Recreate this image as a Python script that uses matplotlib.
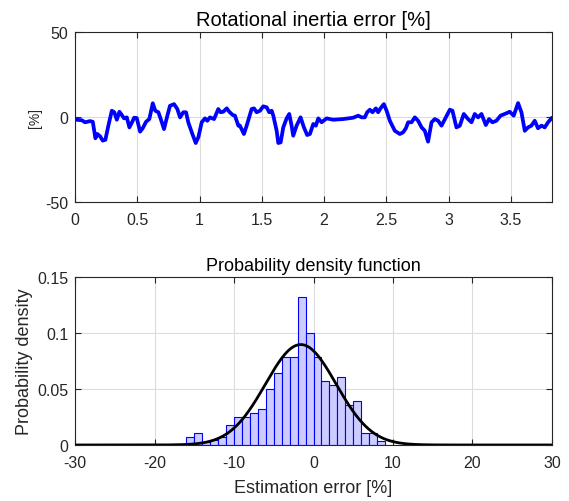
import numpy as np
import matplotlib
matplotlib.use('Agg')
import matplotlib.pyplot as plt

# Traced time series: rotational inertia error [%]
t = [0.008, 0.054, 0.080, 0.120, 0.142, 0.163, 0.179, 0.201, 0.222, 0.243,
     0.267, 0.295, 0.315, 0.335, 0.356, 0.375, 0.393, 0.415, 0.436, 0.457,
     0.474, 0.495, 0.522, 0.543, 0.570, 0.596, 0.624, 0.644, 0.669, 0.688,
     0.714, 0.741, 0.762, 0.795, 0.821, 0.843, 0.869, 0.891, 0.909, 0.937,
     0.969, 0.990, 1.017, 1.043, 1.062, 1.083, 1.116, 1.150, 1.169, 1.190,
     1.218, 1.238, 1.266, 1.284, 1.311, 1.324, 1.356, 1.378, 1.418, 1.437,
     1.458, 1.485, 1.511, 1.539, 1.559, 1.579, 1.592, 1.619, 1.632, 1.651,
     1.672, 1.699, 1.720, 1.739, 1.752, 1.779, 1.811, 1.838, 1.864, 1.886,
     1.913, 1.934, 1.953, 1.980, 2.020, 2.073, 2.153, 2.234, 2.274, 2.301,
     2.327, 2.346, 2.368, 2.389, 2.416, 2.434, 2.453, 2.480, 2.502, 2.528,
     2.568, 2.608, 2.635, 2.657, 2.675, 2.702, 2.729, 2.755, 2.783, 2.809,
     2.835, 2.863, 2.889, 2.916, 2.943, 2.978, 3.010, 3.031, 3.063, 3.090,
     3.122, 3.156, 3.184, 3.210, 3.237, 3.264, 3.299, 3.325, 3.352, 3.384,
     3.417, 3.451, 3.491, 3.523, 3.558, 3.585, 3.612, 3.638, 3.665, 3.692,
     3.718, 3.746, 3.772, 3.799, 3.826]
err = [-1.6, -1.9, -3.1, -2.4, -2.8, -12.5, -10.0, -11.4, -13.9, -13.4,
       -5.1, 3.7, 2.8, -1.6, 3.1, 1.2, -0.8, -0.2, -6.1, -3.1,
       -0.4, -0.6, -8.6, -6.6, -2.8, -1.2, 8.1, 3.7, 2.8, -1.2,
       -7.1, 0.8, 6.6, 7.6, 4.7, -0.2, 2.8, 2.8, -3.1, -9.0,
       -15.3, -11.9, -3.1, -0.8, -2.2, -0.2, -1.2, 4.7, 2.8, 3.1,
       5.1, 3.1, 1.2, 0.8, -5.1, -5.1, -10.0, -5.1, 4.7, 5.1,
       2.8, 3.7, 6.3, 5.7, 2.8, 3.7, 0.8, -8.1, -15.3, -14.9,
       -6.1, -0.8, 1.8, -5.1, -11.0, -5.1, -0.2, -6.1, -10.6, -10.0,
       -4.1, -5.1, -0.8, -3.1, -0.8, -1.6, -1.2, -0.4, 0.8, -0.2,
       -0.2, 2.8, 4.3, 2.8, 5.1, 2.8, 5.1, 7.6, 3.7, -2.2,
       -8.1, -10.0, -9.0, -6.6, -3.1, -3.1, -0.2, -2.2, -6.1, -8.1,
       -14.5, -3.1, -1.2, -2.2, -5.1, -0.2, 4.3, 3.7, -6.1, -5.1,
       1.8, -1.2, -3.1, 1.8, -0.2, 1.8, -4.7, -1.2, -3.1, -2.2,
       0.8, 1.8, 3.1, 0.8, 8.2, 2.8, -8.1, -6.1, -5.1, -2.2,
       -6.6, -5.1, -6.1, -3.1, -0.8]

# Histogram (1 % bins, normalised as pdf)
bin_left = list(range(-16, 9))
density = [0.0072, 0.0107, 0.0025, 0.0042, 0.0069, 0.0179, 0.025, 0.025,
           0.0286, 0.0322, 0.050, 0.0644, 0.0787, 0.0787, 0.132, 0.100,
           0.0787, 0.0572, 0.0536, 0.0608, 0.0358, 0.0393, 0.0107, 0.0107,
           0.0036]

# fitted normal
mu = -1.6
sigma = 4.45

plt.rcParams['font.family'] = ['Liberation Sans', 'DejaVu Sans']
plt.rcParams['axes.unicode_minus'] = False
grid_col = '#dcdcdc'
txt_col = '#262626'

fig = plt.figure(figsize=(5.69, 5.02), dpi=100)
ax1 = fig.add_axes([0.132, 0.5956, 0.838, 0.3386])
ax2 = fig.add_axes([0.132, 0.1116, 0.838, 0.3347])

# Top: time series
ax1.plot(t, err, color='#0000ff', linewidth=2.7)
ax1.set_xlim(0, 3.83)
ax1.set_ylim(-50, 50)
ax1.set_xticks(np.arange(0, 4, 0.5))
ax1.set_xticklabels(['0', '0.5', '1', '1.5', '2', '2.5', '3', '3.5'])
ax1.set_yticks([-50, 0, 50])
ax1.set_title('Rotational inertia error [%]', fontsize=14.5, pad=5, color='black')
ax1.set_ylabel('[%]', fontsize=10, labelpad=2, color=txt_col)

# Bottom: histogram + pdf
ax2.bar(bin_left, density, width=1, align='edge', color='#ccccff',
        edgecolor='#0000ff', linewidth=0.8, zorder=2)
xs = np.linspace(-30, 30, 601)
pdf = np.exp(-0.5 * ((xs - mu) / sigma) ** 2) / (sigma * np.sqrt(2 * np.pi))
ax2.plot(xs, pdf, color='black', linewidth=2, zorder=3)
ax2.set_xlim(-30, 30)
ax2.set_ylim(0, 0.15)
ax2.set_xticks(np.arange(-30, 31, 10))
ax2.set_yticks([0, 0.05, 0.1, 0.15])
ax2.set_yticklabels(['0', '0.05', '0.1', '0.15'])
ax2.set_title('Probability density function', fontsize=13, pad=5, color='black')
ax2.set_xlabel('Estimation error [%]', fontsize=13, labelpad=7, color=txt_col)
ax2.set_ylabel('Probability density', fontsize=13, labelpad=3, color=txt_col)

for ax in (ax1, ax2):
    ax.grid(True, color=grid_col, linewidth=0.8, zorder=0)
    ax.set_axisbelow(True)
    ax.tick_params(direction='in', top=True, right=True, length=4,
                   width=0.8, labelsize=11.5, colors=txt_col,
                   labelcolor=txt_col)
    ax.tick_params(axis='x', pad=7)
    ax.tick_params(axis='y', pad=5)
    for s in ax.spines.values():
        s.set_color(txt_col)
        s.set_linewidth(0.8)

fig.savefig('out.png', dpi=100)
